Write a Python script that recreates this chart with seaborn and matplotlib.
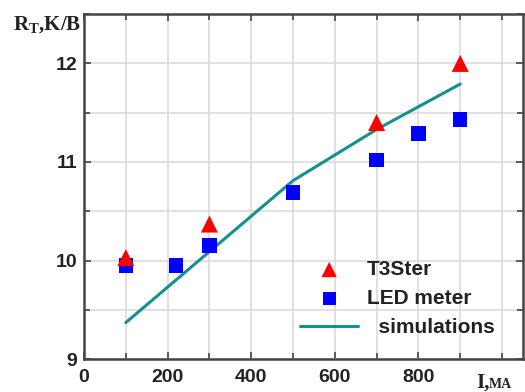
import numpy as np
import pandas as pd
import matplotlib
matplotlib.use('Agg')
import matplotlib.pyplot as plt
import seaborn as sns
from matplotlib.ticker import MultipleLocator, FixedLocator

# data
t3_current = [100, 300, 700, 900]
t3_rt = [10.03, 10.37, 11.40, 12.0]

led_current = [100, 220, 300, 500, 700, 800, 900]
led_rt = [9.95, 9.95, 10.15, 10.69, 11.02, 11.29, 11.43]

sim_current = [100, 300, 500, 700, 900]
sim_rt = [9.37, 10.09, 10.81, 11.33, 11.79]

x_labels = [0, 200, 400, 600, 800]

sns.set_style('ticks')
plt.rcParams['font.family'] = ['Liberation Sans', 'DejaVu Sans']

fig = plt.figure(figsize=(5.25, 3.92), dpi=100)
ax = fig.add_axes([0.16, 0.084, 0.836, 0.88])

sns.lineplot(x=sim_current, y=sim_rt, ax=ax, color='#16908c', lw=2.2,
             label='simulations', zorder=3)
sns.scatterplot(x=led_current, y=led_rt, ax=ax, marker='s', color='#0000ff',
                s=110, edgecolor='none', label='LED meter', zorder=4)
sns.scatterplot(x=t3_current, y=t3_rt, ax=ax, marker='^', color='#ff0000',
                s=150, edgecolor='none', label='T3Ster', zorder=5)

ax.set_xlim(0, 1050)
ax.set_ylim(9, 12.5)
ax.xaxis.set_major_locator(FixedLocator(x_labels))
ax.xaxis.set_minor_locator(MultipleLocator(100))
ax.yaxis.set_major_locator(MultipleLocator(1))
ax.yaxis.set_minor_locator(MultipleLocator(0.5))
ax.grid(which='both', color='#dcdcdc', lw=1.2, zorder=0)
ax.set_axisbelow(True)

for s in ax.spines.values():
    s.set_color('#444444')
    s.set_linewidth(1.8)
ax.tick_params(which='both', direction='in', top=True, right=True,
               color='#444444', width=1.2)
ax.tick_params(which='major', length=5, labelsize=14, pad=5)
ax.tick_params(which='minor', length=4)
ax.tick_params(axis='x', which='major', pad=7)
for lab in ax.get_xticklabels() + ax.get_yticklabels():
    lab.set_fontweight('bold')
    lab.set_color('#222222')

ax.set_xlabel('')
ax.set_ylabel('')
fig.text(13 / 525, 1 - 30 / 392, 'R$_\\mathregular{T}$,K/B', family='Liberation Serif',
         fontsize=15, fontweight='bold', color='#222222', va='baseline')
fig.text(476 / 525, 1 - 388 / 392, 'I,', family='Liberation Serif', fontsize=15,
         fontweight='bold', color='#222222', va='baseline')
fig.text(489 / 525, 1 - 388 / 392, 'МА', family='Liberation Serif', fontsize=10,
         fontweight='bold', color='#222222', va='baseline')

h, l = ax.get_legend_handles_labels()
order = [l.index('T3Ster'), l.index('LED meter'), l.index('simulations')]
leg = ax.legend([h[i] for i in order], ['T3Ster', 'LED meter', '  simulations'],
                loc='upper left', bbox_to_anchor=(300 / 525, 1 - 260 / 392),
                bbox_transform=fig.transFigure, frameon=False, borderpad=0,
                borderaxespad=0, prop={'weight': 'bold', 'size': 15},
                handlelength=2.8, handletextpad=0.4, labelspacing=0.48,
                markerscale=0.9)
for t in leg.get_texts():
    t.set_color('#222222')

fig.savefig('out.png', dpi=100)
